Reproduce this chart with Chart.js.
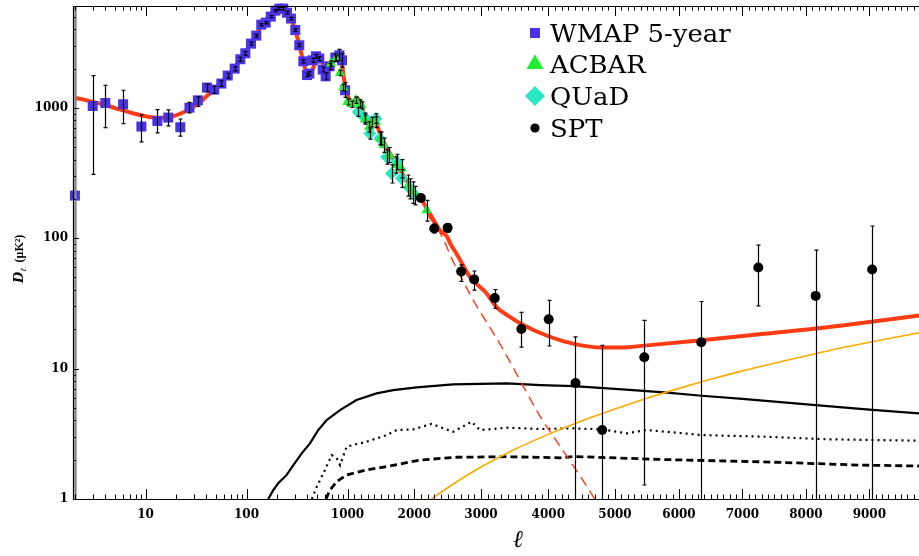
<!DOCTYPE html>
<html><head><meta charset="utf-8">
<script src="https://cdn.jsdelivr.net/npm/chart.js@4.4.0/dist/chart.umd.min.js"></script>
<style>html,body{margin:0;padding:0;background:#fff;overflow:hidden}#wrap{width:919px;height:556px;position:relative}</style>
</head><body><div id="wrap"><canvas id="c" width="919" height="556"></canvas></div>
<script>
// ---------------- DATA ----------------
// WMAP 5-year band powers
const wmapEll = [2,3,4,6,9.1,13.1,16.8,22.1,27.2,33,40.6,48,56.3,65.2,76.4,86.9,97.3,110.8,125,140,155,174,193,211,231,252,276,304,333,365,397,419,452,488,526,568,608,666,757,830,883,946];
const wmapD   = [212,1032,1088,1064,718,792,841,709,1002,1140,1429,1377,1532,1766,1996,2355,2618,3103,3575,4337,4495,5000,5556,5758,5758,5358,4829,3945,3013,2270,1782,1828,2312,2483,2383,1963,1742,2080,2426,2523,2312,1362];
const wmapLo  = [1,309,705,757,547,641,726,605,913,1026,1330,1290,1460,1690,1920,2270,2530,3020,3480,4250,4400,4900,5450,5640,5640,5240,4720,3850,2940,2210,1730,1770,2240,2400,2300,1880,1640,1960,2270,2300,2050,1200];
const wmapHi  = [7000,1766,1487,1362,880,968,962,820,1100,1210,1520,1460,1610,1840,2070,2440,2700,3190,3660,4420,4580,5100,5660,5880,5880,5480,4940,4040,3090,2330,1840,1890,2390,2570,2470,2050,1850,2200,2590,2800,2600,1560];

// ACBAR
const acbarEll = [687,770,843,909,1000,1060,1125,1185,1210,1260,1325,1370,1425,1495,1545,1625,1725,1810,1910,1985,2185];
const acbarD   = [2183,2383,1849,1429,1107,1064,1141,1077,1045,812,713,778,774,581,516,433,363,342,255,226,164];
const acbarLo  = [2080,2270,1760,1350,1050,1005,1080,1010,980,750,650,715,705,520,455,380,315,290,210,185,135];
const acbarHi  = [2290,2500,1940,1510,1170,1125,1205,1150,1110,880,780,845,850,650,585,495,420,400,305,270,195];

// QUaD
const quadEll = [1160,1260,1335,1425,1485,1585,1660,1735,1810,1935,2010];
const quadD   = [929,838,634,826,581,420,313,385,287,240,214];
const quadLo  = [860,770,575,760,520,370,265,335,245,200,180];
const quadHi  = [1000,910,700,900,650,475,365,440,335,285,250];

// SPT
const sptEll = [2099,2299,2499,2703,2898,3204,3600,4006,4408,4808,5458,6351,7249,8153,9044];
const sptD   = [203,118.7,120,55.6,48.3,34.7,20.1,23.9,7.74,3.38,12.2,15.9,59.6,36.1,57.5];
const sptLo  = [192,110,111,46.6,40,29,14.6,14.9,0.5,0.5,1.28,0.5,30.3,0.5,0.5];
const sptHi  = [215,128,129,62.4,56,40.4,27,33.4,17.5,15.1,23.4,32.7,88.3,80.9,124];

// total model (thick red)
const modelEll = [2,2.5,3,4,5,6,8,10,12,14,17,20,25,30,35,40,50,60,70,80,90,100,115,130,150,170,190,210,225,240,260,280,300,320,340,360,380,400,415,430,450,480,510,530,550,575,600,615,640,680,720,770,810,850,890,930,970,1000,1040,1085,1135,1180,1234,1290,1340,1380,1420,1480,1534,1600,1680,1784,1880,1980,2100,2200,2300,2384,2484,2560,2634,2834,3084,3234,3400,3600,4000,4400,4808,5100,5458,6357,7000,8153,9000,9783];
const modelD   = [1189,1150,1110,1050,995,955,895,860,842,838,848,875,940,1020,1110,1220,1430,1650,1880,2150,2450,2780,3280,3850,4550,5150,5550,5720,5730,5550,5180,4650,4050,3420,2850,2350,2000,1830,1800,1830,1950,2250,2440,2470,2400,2150,1850,1790,1850,2120,2400,2570,2600,2450,2050,1600,1350,1240,1140,1105,1200,1120,930,820,820,835,790,650,560,480,410,335,280,235,200,165,135,115,104,87,76,50.5,37.7,29.5,25.5,22,17.7,15.4,14.5,14.5,15.0,16.5,17.8,20.3,22.8,25.5];

// primary CMB only (red dashed)
const primEll = [2200,2350,2450,2550,2634,2750,2883,3100,3333,3633,3883,4183,4583,4750];
const primD   = [150,118,95,72,58.6,45,33.5,22,13.9,7.25,4.27,2.51,1.24,0.9];

// Poisson point sources (orange)
const poisEll = [2260,2500,3000,3500,4000,4500,5000,5500,6000,6500,7000,7500,8000,8500,9000,9500,9783];
const poisD   = [1,1.22,1.76,2.4,3.13,3.97,4.9,5.93,7.05,8.28,9.6,11.0,12.5,14.2,15.9,17.7,18.8];

// black solid
const fg1Ell = [164,184,206,250,291,352,425,514,622,843,1135,1435,1684,2035,2583,3384,3883,4382,5000,5770,6357,7000,8153,9000,9783];
const fg1D   = [1,1.17,1.32,1.53,1.82,2.24,2.67,3.38,4.03,4.81,5.74,6.45,6.84,7.18,7.57,7.69,7.48,7.34,7.0,6.57,6.19,5.85,5.25,4.85,4.54];

// black dotted
const fg2Ell = [443,496,576,698,782,844,982,1285,1585,1735,1984,2259,2583,2859,2984,3384,3883,4382,4808,5183,5495,6380,7384,8325,9783];
const fg2D   = [1,1.24,1.57,2.17,2.05,1.82,2.52,2.75,3.09,3.38,3.42,3.76,3.28,3.91,3.38,3.52,3.44,3.48,3.42,3.19,3.38,3.09,3.0,2.87,2.80];

// black dashed
const fg3Ell = [612,671,782,982,1285,1634,2084,2634,3384,4182,4382,5703,7276,8850,9783];
const fg3D   = [1,1.17,1.36,1.53,1.67,1.79,1.99,2.09,2.11,2.07,2.12,2.01,1.93,1.82,1.79];

// axis ticks
const X_TICK_VALUES = [10,100,1000,2000,3000,4000,5000,6000,7000,8000,9000];
const X_TICK_LABELS = ['10','100','1000','2000','3000','4000','5000','6000','7000','8000','9000'];
const Y_TICK_VALUES = [1,10,100,1000];
const Y_TICK_LABELS = ['1','10','100','1000'];
const LEGEND_LABELS = ['WMAP 5-year','ACBAR','QUaD','SPT'];

// ---------------- HYBRID ELL AXIS (log below 1000, stretched linear above) ----------------
const AXIS = { decade: 101, linEll: [1000,2000,3000,4000,5000,6000,7000,8000,9000],
               linU: [0,66.8,133.5,200.8,267.5,331.5,395,458.5,521.9], minEll: 1.914, maxEll: 9783 };
function axisU(ell){
  if (ell <= 1000) return AXIS.decade*Math.log10(ell);
  const K = AXIS.linEll, U = AXIS.linU;
  let i = 0; while (i < K.length-2 && ell > K[i+1]) i++;
  const t = (ell-K[i])/(K[i+1]-K[i]);
  return 3*AXIS.decade + U[i] + t*(U[i+1]-U[i]);
}
const pts = (e, v) => e.map((l,i)=>({x: axisU(l), y: v[i]}));

const C = { wmap:'#4b32e6', acbar:'#22ee33', quad:'#2ae8c4', spt:'#000000', red:'#ff3b14', orange:'#ffaa00' };

// ---------------- PLUGINS ----------------
const ERR_SETS = [
  {ell: wmapEll, lo: wmapLo, hi: wmapHi},
  {ell: quadEll, lo: quadLo, hi: quadHi},
  {ell: acbarEll, lo: acbarLo, hi: acbarHi},
  {ell: sptEll, lo: sptLo, hi: sptHi}
];
const errPlugin = {
  id: 'errbars',
  afterDatasetsDraw(chart){
    const {ctx, chartArea:a, scales:{x,y}} = chart;
    ctx.save();
    ctx.beginPath(); ctx.rect(a.left, a.top, a.right-a.left, a.bottom-a.top); ctx.clip();
    ERR_SETS.forEach((s, si) => {
      s.ell.forEach((l,i) => {
        const px = Math.round(x.getPixelForValue(axisU(l))) + 0.5;
        const y1 = y.getPixelForValue(s.lo[i]), y2 = y.getPixelForValue(s.hi[i]);
        if (si === 0 && i === 0) {
          ctx.strokeStyle = '#8a8a8a'; ctx.lineWidth = 2.4;
          ctx.beginPath(); ctx.moveTo(px, y1); ctx.lineTo(px, y2); ctx.stroke();
          return;
        }
        ctx.strokeStyle = '#000'; ctx.lineWidth = 1.2;
        ctx.beginPath(); ctx.moveTo(px, y1); ctx.lineTo(px, y2);
        ctx.moveTo(px-2, y1); ctx.lineTo(px+2, y1);
        ctx.moveTo(px-2, y2); ctx.lineTo(px+2, y2);
        ctx.stroke();
      });
    });
    ctx.restore();
  }
};

const framePlugin = {
  id: 'frame',
  afterDraw(chart){
    const {ctx, chartArea:a, scales:{x,y}} = chart;
    ctx.save();
    ctx.strokeStyle = '#000'; ctx.lineWidth = 1.2;
    // axis lines
    ctx.beginPath();
    ctx.moveTo(a.left+0.5, a.top); ctx.lineTo(a.left+0.5, a.bottom+0.5);
    ctx.moveTo(a.left, a.bottom+0.5); ctx.lineTo(a.right, a.bottom+0.5);
    ctx.moveTo(a.left, a.top+0.5); ctx.lineTo(a.right, a.top+0.5);
    ctx.stroke();
    // x ticks
    const xt = [];
    for (let d = 1; d <= 100; d *= 10) for (let m = 1; m <= 9; m++) xt.push({v: m*d, major: m === 1});
    xt.push({v:1000, major:true});
    for (let v = 1100; v <= 9700; v += 100) xt.push({v, major: v % 1000 === 0});
    ctx.lineWidth = 1;
    ctx.beginPath();
    xt.forEach(t => {
      const u = axisU(t.v);
      if (u < x.min || u > x.max) return;
      const px = Math.round(x.getPixelForValue(u)) + 0.5;
      const L = t.major ? 10 : 4.5;
      ctx.moveTo(px, a.bottom); ctx.lineTo(px, a.bottom - L);
      ctx.moveTo(px, a.top); ctx.lineTo(px, a.top + L);
    });
    // y ticks
    for (let d = 1; d <= 1000; d *= 10) for (let m = 1; m <= 9; m++) {
      const v = m*d; if (v > y.max) continue;
      const py = Math.round(y.getPixelForValue(v)) + 0.5;
      const L = m === 1 ? 6 : 3;
      ctx.moveTo(a.left, py); ctx.lineTo(a.left + L, py);
    }
    ctx.stroke();

    // x title
    ctx.fillStyle = '#000';
    ctx.font = 'italic 24px "DejaVu Serif"';
    ctx.textAlign = 'center'; ctx.textBaseline = 'middle';
    ctx.fillText('\u2113', 518, 541);

    // y title (rotated)
    ctx.save();
    ctx.translate(18, 253); ctx.rotate(-Math.PI/2);
    ctx.textAlign = 'left'; ctx.textBaseline = 'alphabetic';
    let cx = -30;
    ctx.font = 'italic bold 13px "DejaVu Serif"';
    ctx.fillText('D', cx, 5); cx += ctx.measureText('D').width;
    ctx.font = 'italic 8px "DejaVu Serif"';
    ctx.fillText('\u2113', cx, 8); cx += ctx.measureText('\u2113').width + 6;
    ctx.font = 'bold 12px "Liberation Serif"';
    ctx.fillText('(\u03bcK\u00b2)', cx, 5);
    ctx.restore();

    // legend
    const items = [
      {style:'rect', r:7.07, color:C.wmap, y:33},
      {style:'triangle', r:9.8, color:C.acbar, y:64},
      {style:'rectRot', r:10, color:C.quad, y:96},
      {style:'circle', r:4.6, color:C.spt, y:128}
    ];
    ctx.textAlign = 'left'; ctx.textBaseline = 'alphabetic';
    items.forEach((it, i) => {
      ctx.fillStyle = it.color;
      Chart.helpers.drawPoint(ctx, {pointStyle: it.style, radius: it.r, rotation: 0, borderWidth: 0}, 535, it.y);
      ctx.fillStyle = '#000';
      ctx.save();
      ctx.translate(550, it.y + 8.5); ctx.scale(1.08, 1);
      ctx.font = '24px "DejaVu Serif"';
      ctx.fillText(LEGEND_LABELS[i], 0, 0);
      ctx.restore();
    });
    ctx.restore();
  }
};

// ---------------- CHART ----------------
const pointDS = (label, data, style, r, color) => ({
  label, data, showLine:false, pointStyle: style, pointRadius: r, pointHoverRadius: r,
  pointBackgroundColor: color, pointBorderWidth: 0, backgroundColor: color, borderColor: color, clip: false
});
const lineDS = (label, data, color, w, dash, mono) => ({
  label, data, showLine:true, pointRadius:0, borderColor: color, borderWidth: w, borderDash: dash || [],
  fill:false, cubicInterpolationMode: mono ? 'monotone' : 'default', tension: 0
});

const tickFont = {family: 'DejaVu Serif', size: 12, weight: 'bold'};

new Chart(document.getElementById('c'), {
  type: 'scatter',
  data: { datasets: [
    pointDS('SPT', pts(sptEll, sptD), 'circle', 5, C.spt),
    pointDS('ACBAR', pts(acbarEll, acbarD), 'triangle', 6, C.acbar),
    pointDS('QUaD', pts(quadEll, quadD), 'rectRot', 6.5, C.quad),
    pointDS('WMAP 5-year', pts(wmapEll, wmapD), 'rect', 7.07, C.wmap),
    lineDS('model', pts(modelEll, modelD), C.red, 4, null, true),
    lineDS('primary', pts(primEll, primD), C.red, 1.4, [10,6], true),
    lineDS('poisson', pts(poisEll, poisD), C.orange, 1.6, null, true),
    lineDS('fg1', pts(fg1Ell, fg1D), '#000', 2.2, null, false),
    lineDS('fg2', pts(fg2Ell, fg2D), '#000', 2.2, [2,4], false),
    lineDS('fg3', pts(fg3Ell, fg3D), '#000', 2.8, [7,4], false)
  ]},
  options: {
    responsive: false, animation: false, devicePixelRatio: 1,
    layout: {autoPadding: false, padding: {top: 6, right: 0, left: 0, bottom: 0}},
    plugins: {legend: {display:false}, tooltip: {enabled:false}},
    scales: {
      x: {
        type: 'linear', bounds: 'data', min: axisU(AXIS.minEll), max: axisU(AXIS.maxEll),
        grid: {display:false, drawTicks:false}, border: {display:false},
        ticks: {font: tickFont, color:'#000', padding: 9, autoSkip:false, maxRotation:0,
                callback: (v, i) => X_TICK_LABELS[i]},
        afterBuildTicks: s => { s.ticks = X_TICK_VALUES.map(v => ({value: axisU(v)})); },
        afterFit: s => { s.height = 57; s.paddingLeft = 0; s.paddingRight = 0; }
      },
      y: {
        type: 'logarithmic', min: 1, max: 6030,
        grid: {display:false, drawTicks:false}, border: {display:false},
        ticks: {font: tickFont, color:'#000', padding: 5, autoSkip:false,
                callback: (v, i) => Y_TICK_LABELS[i]},
        afterBuildTicks: s => { s.ticks = Y_TICK_VALUES.map(v => ({value: v})); },
        afterFit: s => { s.width = 73; s.paddingTop = 0; s.paddingBottom = 0; }
      }
    }
  },
  plugins: [errPlugin, framePlugin]
});
</script></body></html>
